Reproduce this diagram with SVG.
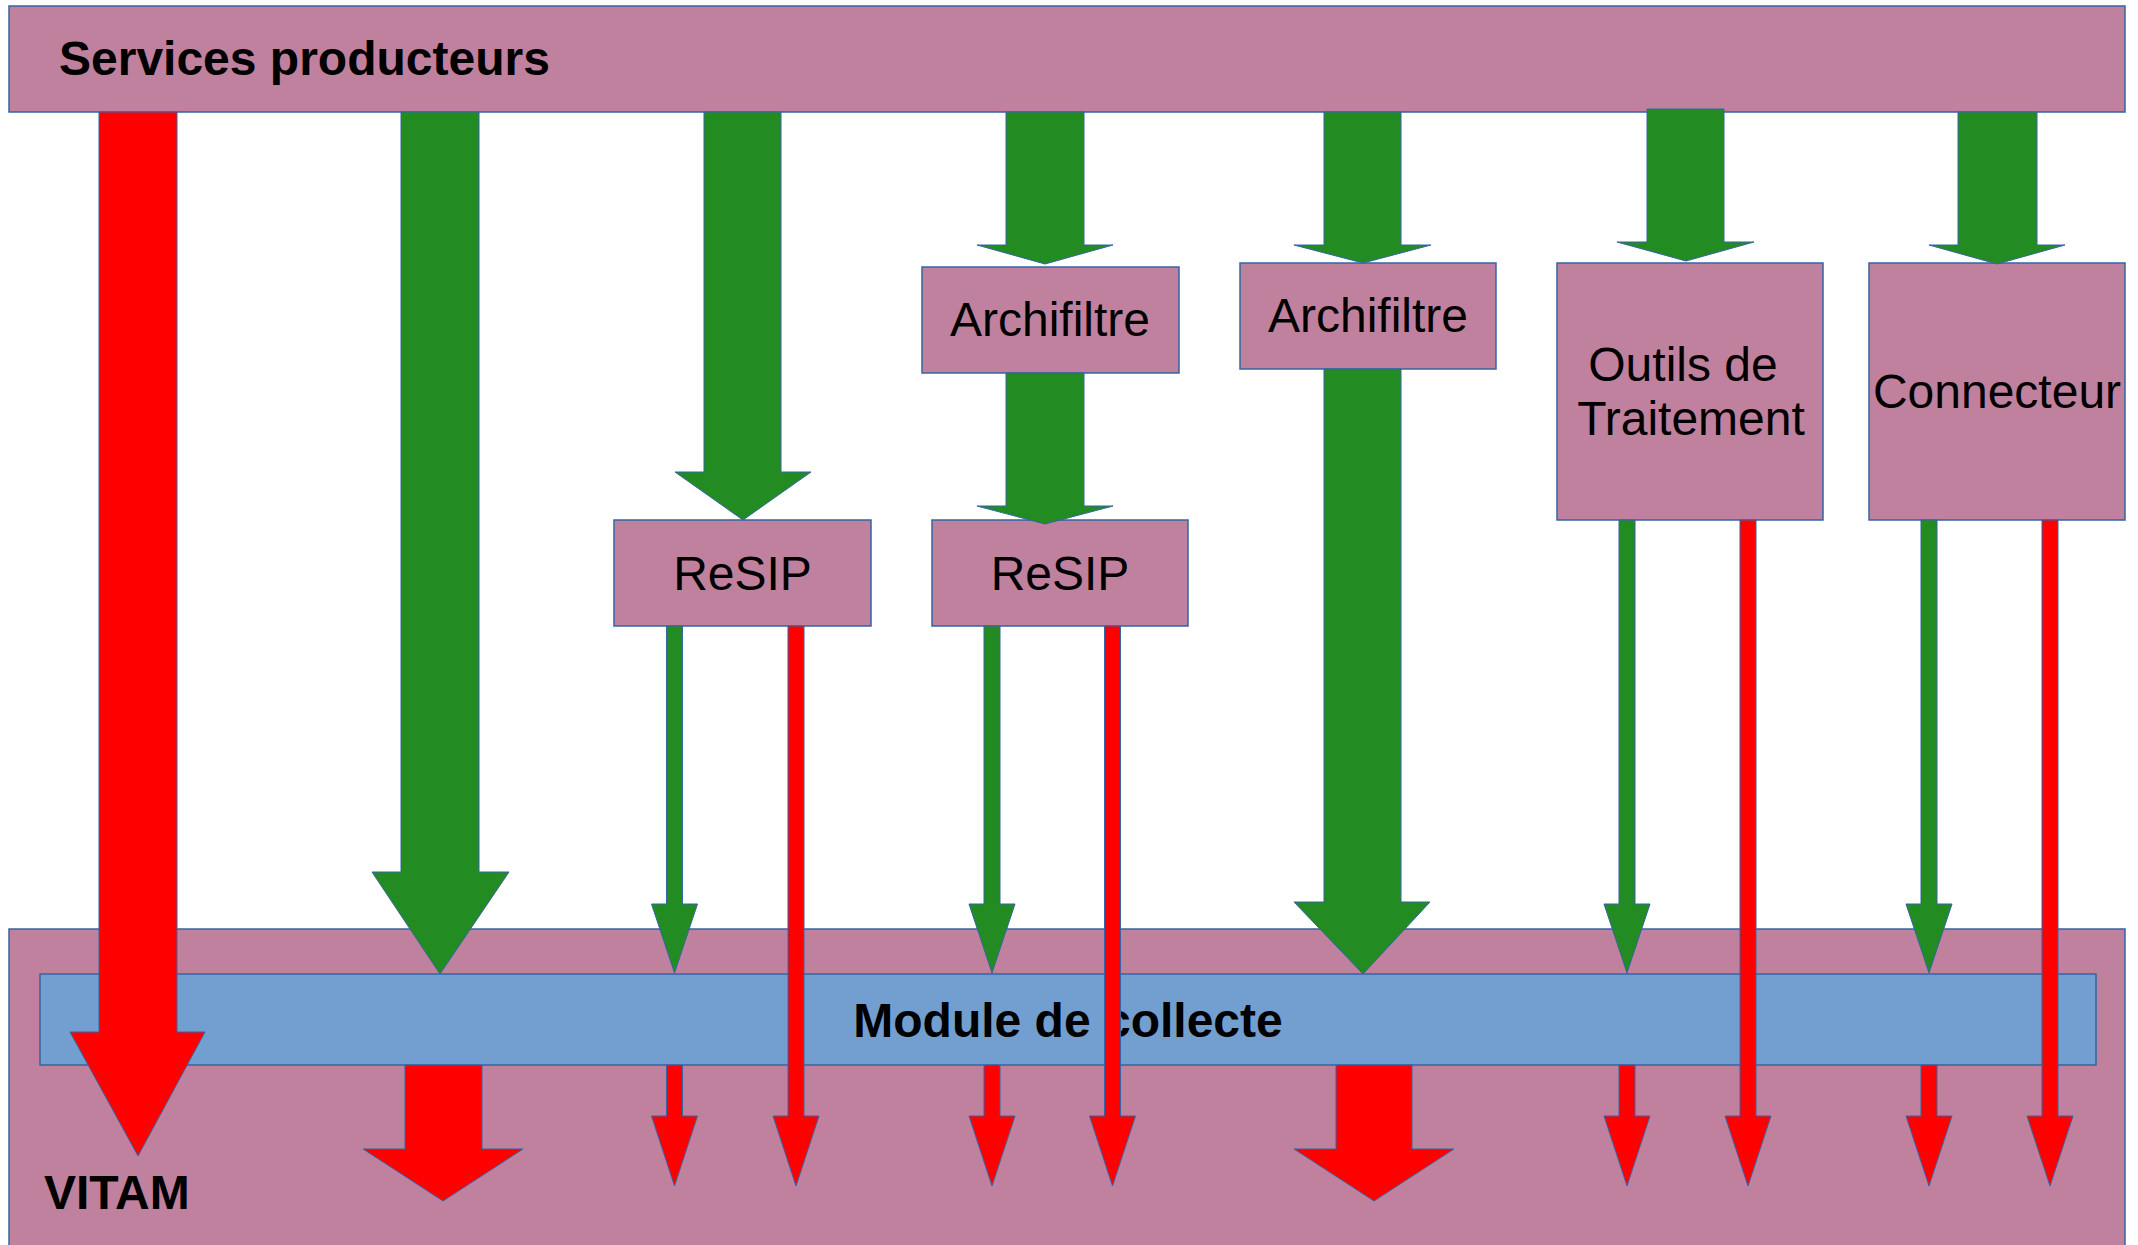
<svg xmlns="http://www.w3.org/2000/svg" width="2138" height="1245" viewBox="0 0 2138 1245">
<style>
.box{fill:#c0819e;stroke:#3465a4;stroke-width:1.5}
.mod{fill:#729fcf;stroke:#3465a4;stroke-width:1.5}
.g{fill:#228b22;stroke:#3465a4;stroke-width:1}
.r{fill:#ff0000;stroke:#3465a4;stroke-width:1}
.t{font-family:"Liberation Sans",Arial,sans-serif;font-size:48px;fill:#000}
.b{font-weight:bold}
.m{text-anchor:middle}
</style>
<rect width="2138" height="1245" fill="#ffffff"/>
<g id="vitam">
<rect class="box" x="9" y="929" width="2116" height="320"/>
<text class="t b" x="44" y="1209">VITAM</text>
</g>
<g id="module-collecte">
<rect class="mod" x="40" y="974" width="2056" height="91"/>
<text class="t b m" x="1068" y="1037">Module de collecte</text>
</g>
<g id="services-producteurs">
<rect class="box" x="9" y="6" width="2116" height="106"/>
<text class="t b" x="59" y="75">Services producteurs</text>
</g>
<g id="archifiltre-1">
<rect class="box" x="922" y="267" width="257" height="106"/>
<text class="t m" x="1050" y="336">Archifiltre</text>
</g>
<g id="archifiltre-2">
<rect class="box" x="1240" y="263" width="256" height="106"/>
<text class="t m" x="1368" y="332">Archifiltre</text>
</g>
<g id="resip-1">
<rect class="box" x="614" y="520" width="257" height="106"/>
<text class="t m" x="742.5" y="590">ReSIP</text>
</g>
<g id="resip-2">
<rect class="box" x="932" y="520" width="256" height="106"/>
<text class="t m" x="1060" y="590">ReSIP</text>
</g>
<g id="outils-traitement">
<rect class="box" x="1557" y="263" width="266" height="257"/>
<text class="t m" x="1683" y="381">Outils de</text>
<text class="t m" x="1691" y="435">Traitement</text>
</g>
<g id="connecteur">
<rect class="box" x="1869" y="263" width="256" height="257"/>
<text class="t m" x="1997" y="408">Connecteur</text>
</g>
<g id="connectors">
<polygon class="r" points="99,112 177,112 177,1032 205,1032 138,1156 70,1032 99,1032"/>
<polygon class="g" points="401,112 479,112 479,872 509,872 440,974 372,872 401,872"/>
<polygon class="r" points="405,1065 482,1065 482,1149 523,1149 443,1201 363,1149 405,1149"/>
<polygon class="g" points="704,112 781,112 781,472 811,472 743,520 675,472 704,472"/>
<polygon class="g" points="1006,112 1084,112 1084,245 1113,245 1045,264 977,245 1006,245"/>
<polygon class="g" points="1006,373 1084,373 1084,506 1113,506 1045,524 977,506 1006,506"/>
<polygon class="g" points="1324,112 1401,112 1401,245 1431,245 1363,263 1294,245 1324,245"/>
<polygon class="g" points="1324,369 1401,369 1401,902 1430,902 1363,974 1294,902 1324,902"/>
<polygon class="r" points="1336,1065 1412,1065 1412,1149 1454,1149 1374,1201 1294,1149 1336,1149"/>
<polygon class="g" points="1647,109 1724,109 1724,242 1754,242 1686,261 1617,242 1647,242"/>
<polygon class="g" points="1958,112 2037,112 2037,245 2065,245 1997,264 1929,245 1958,245"/>
<polygon class="g" points="666.5,626 682.5,626 682.5,904 697.5,904 674.5,973 651.5,904 666.5,904"/>
<polygon class="r" points="788,626 804,626 804,1116 819,1116 796,1186 773,1116 788,1116"/>
<polygon class="r" points="666.5,1065 682.5,1065 682.5,1116 697.5,1116 674.5,1186 651.5,1116 666.5,1116"/>
<polygon class="g" points="984,626 1000,626 1000,904 1015,904 992,973 969,904 984,904"/>
<polygon class="r" points="1104.5,626 1120.5,626 1120.5,1116 1135.5,1116 1112.5,1186 1089.5,1116 1104.5,1116"/>
<polygon class="r" points="984,1065 1000,1065 1000,1116 1015,1116 992,1186 969,1116 984,1116"/>
<polygon class="g" points="1619,520 1635,520 1635,904 1650,904 1627,973 1604,904 1619,904"/>
<polygon class="r" points="1740,520 1756,520 1756,1116 1771,1116 1748,1186 1725,1116 1740,1116"/>
<polygon class="r" points="1619,1065 1635,1065 1635,1116 1650,1116 1627,1186 1604,1116 1619,1116"/>
<polygon class="g" points="1921,520 1937,520 1937,904 1952,904 1929,973 1906,904 1921,904"/>
<polygon class="r" points="2042,520 2058,520 2058,1116 2073,1116 2050,1186 2027,1116 2042,1116"/>
<polygon class="r" points="1921,1065 1937,1065 1937,1116 1952,1116 1929,1186 1906,1116 1921,1116"/>
</g>
</svg>
